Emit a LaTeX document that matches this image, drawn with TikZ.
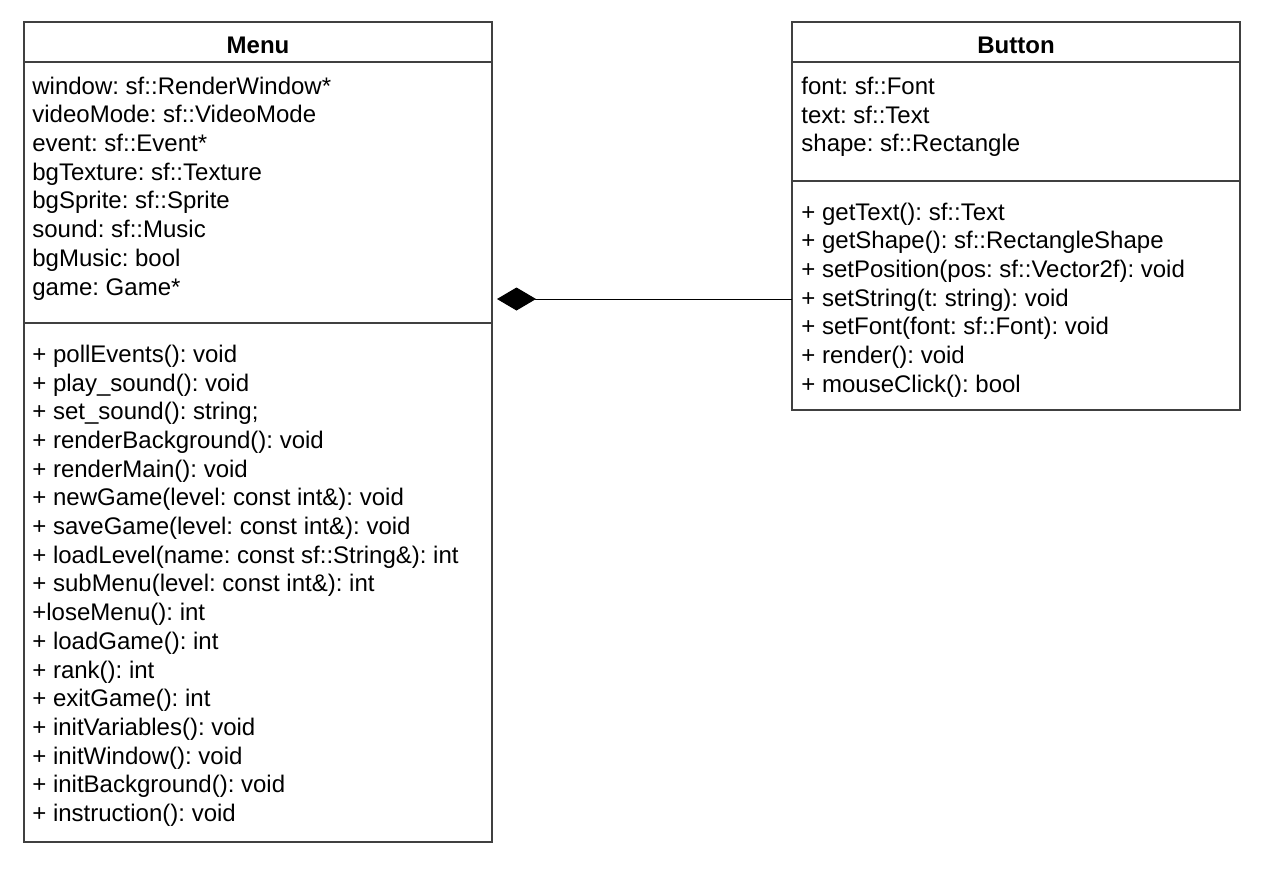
\documentclass[tikz,border=0pt]{standalone}
\usepackage{fontspec}
\setmainfont{Liberation Sans}
\usepackage{tikz}
\usetikzlibrary{positioning,arrows.meta}
\frenchspacing

\begin{document}
\begin{tikzpicture}[x=0.5pt, y=-0.5pt,
  part/.style={draw=black!75, line width=0.6pt, inner sep=0pt, outer sep=0pt},
  classname/.style={part, font=\bfseries\fontsize{12}{14.35}\selectfont, text height=12pt, text depth=0pt, minimum height=20pt},
  members/.style={align=left, font=\fontsize{12}{14.35}\selectfont, inner sep=0pt, anchor=base west},
  comp/.style={-{Diamond[length=19.5pt, width=11.5pt]}, line width=0.5pt, shorten >=2.5pt}
]
\useasboundingbox (0,0) rectangle (1268,878);
% Menu class (text nodes are placed by the baseline of their last line)
\node[classname, minimum width=234pt] (menuTitle) at (258,42) {Menu};
\node[part, minimum width=234pt, minimum height=130.5pt, below=0pt of menuTitle] (menuAttr) {};
\node[part, minimum width=234pt, minimum height=259.5pt, below=0pt of menuAttr] (menuOps) {};
\node[members] (menuAttrText) at (32,295) {window: sf::RenderWindow*\\videoMode: sf::VideoMode\\event: sf::Event*\\bgTexture: sf::Texture\\bgSprite: sf::Sprite\\sound: sf::Music\\bgMusic: bool\\game: Game*};
\node[members] (menuOpsText) at (32,821.5) {+ pollEvents(): void\\+ play\_sound(): void\\+ set\_sound(): string;\\+ renderBackground(): void\\+ renderMain(): void\\+ newGame(level: const int\&): void\\+ saveGame(level: const int\&): void\\+ loadLevel(name: const sf::String\&): int\\+ subMenu(level: const int\&): int\\+loseMenu(): int\\+ loadGame(): int\\+ rank(): int\\+ exitGame(): int\\+ initVariables(): void\\+ initWindow(): void\\+ initBackground(): void\\+ instruction(): void};
% Button class
\node[classname, minimum width=224pt] (buttonTitle) at (1016,42) {Button};
\node[part, minimum width=224pt, minimum height=59.5pt, below=0pt of buttonTitle] (buttonAttr) {};
\node[part, minimum width=224pt, minimum height=114.5pt, below=0pt of buttonAttr] (buttonOps) {};
\node[members] (buttonAttrText) at (801,151.7) {font: sf::Font\\text: sf::Text\\shape: sf::Rectangle};
\node[members] (buttonOpsText) at (801,392.2) {+ getText(): sf::Text\\+ getShape(): sf::RectangleShape\\+ setPosition(pos: sf::Vector2f): void\\+ setString(t: string): void\\+ setFont(font: sf::Font): void\\+ render(): void\\+ mouseClick(): bool};
% composition
\draw[comp] ([yshift=-1.75pt]buttonOps.west) -- ([yshift=-1.75pt]buttonOps.west -| menuAttr.east);
\end{tikzpicture}
\end{document}
